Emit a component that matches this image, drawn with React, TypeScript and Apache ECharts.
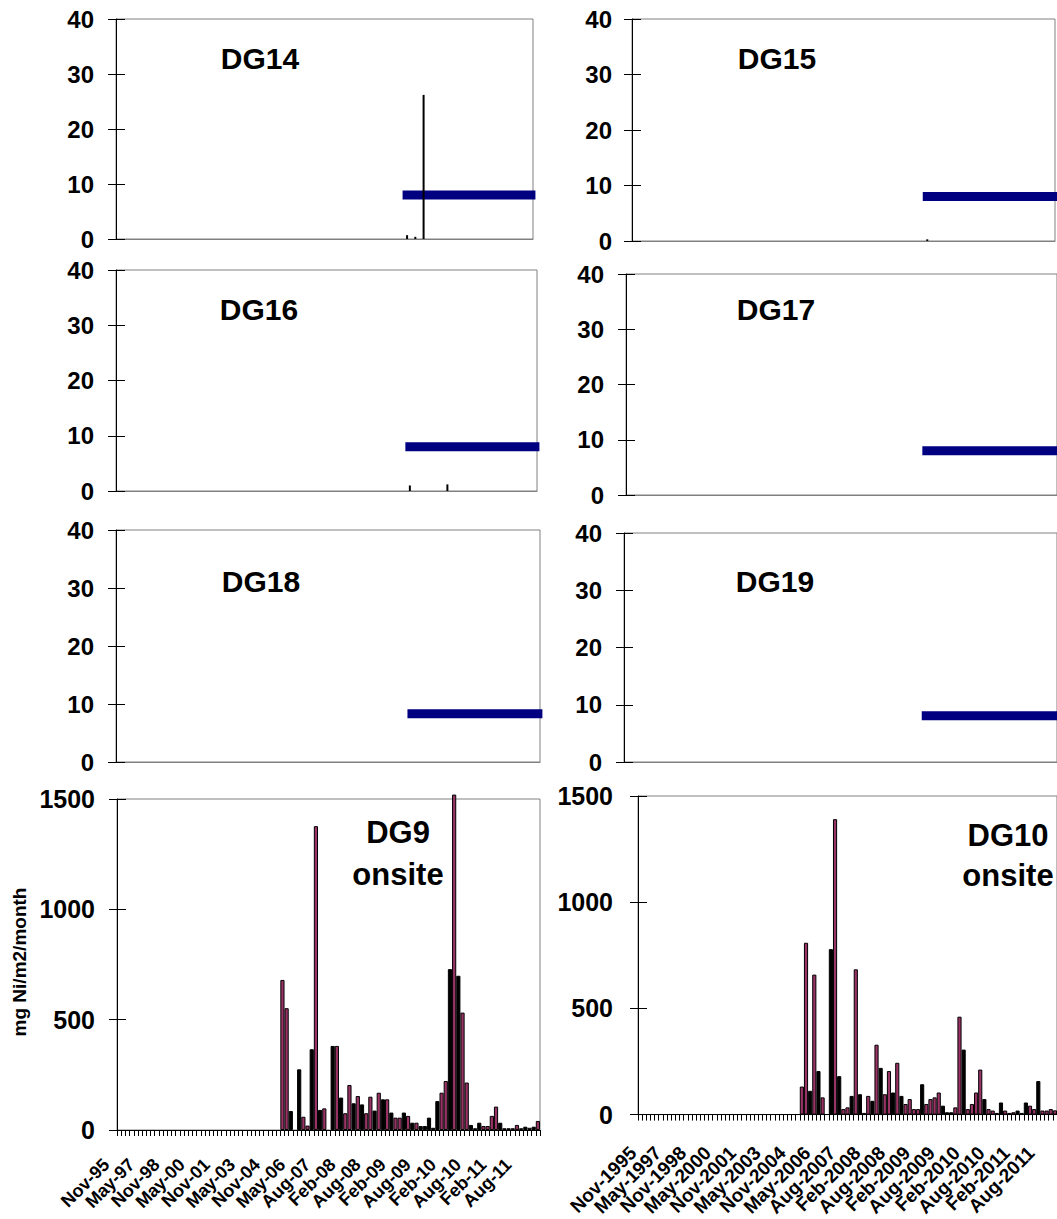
import React, { useEffect, useRef } from "react";
import * as echarts from "echarts";

// ---------- DATA ----------
const categories: string[] = [
  "Nov-95","Feb-96","May-96","Aug-96","Nov-96","Feb-97","May-97","Aug-97","Nov-97","Feb-98",
  "May-98","Aug-98","Nov-98","Feb-99","May-99","Aug-99","Nov-99","Feb-00","May-00","Aug-00",
  "Nov-00","Feb-01","May-01","Aug-01","Nov-01","Feb-02","May-02","Aug-02","Nov-02","Feb-03",
  "May-03","Aug-03","Nov-03","Feb-04","May-04","Aug-04","Nov-04","Feb-05","May-05","Aug-05",
  "Nov-05","Feb-06","May-06","Aug-06","Nov-06","Feb-07","May-07","Jul-07","Aug-07","Sep-07",
  "Oct-07","Nov-07","Dec-07","Jan-08","Feb-08","Mar-08","Apr-08","May-08","Jun-08","Jul-08",
  "Aug-08","Sep-08","Oct-08","Nov-08","Dec-08","Jan-09","Feb-09","Mar-09","Apr-09","May-09",
  "Jun-09","Jul-09","Aug-09","Sep-09","Oct-09","Nov-09","Dec-09","Jan-10","Feb-10","Mar-10",
  "Apr-10","May-10","Jun-10","Jul-10","Aug-10","Sep-10","Oct-10","Nov-10","Dec-10","Jan-11",
  "Feb-11","Mar-11","Apr-11","May-11","Jun-11","Jul-11","Aug-11","Sep-11","Oct-11","Nov-11",
  "Dec-11",
];
const toLong = (c: string) => {
  const [m, y] = c.split("-");
  return m + "-" + (Number(y) > 50 ? "19" : "20") + y;
};
const categoriesLong: string[] = categories.map(toLong);

// x tick labels that are printed
const shownXLabels = [
  "Nov-95", "May-97", "Nov-98", "May-00", "Nov-01", "May-03", "Nov-04", "May-06", "Aug-07",
  "Feb-08", "Aug-08", "Feb-09", "Aug-09", "Feb-10", "Aug-10", "Feb-11", "Aug-11",
];
const shownXLabelsLong = shownXLabels.map(toLong);

const topYTicks = [0, 10, 20, 30, 40];
const bottomYTicks = [0, 500, 1000, 1500];

// guideline (blue line) starts at this month and runs to the end
const guideStart = "Jun-09";
const dg14Guide = 8.0;
const dg15Guide = 8.0;
const dg16Guide = 8.0;
const dg17Guide = 8.0;
const dg18Guide = 8.3;
const dg19Guide = 8.1;

const dg14BarMonths = ["Jun-09", "Aug-09", "Oct-09"];
const dg14BarValues = [0.7, 0.4, 26.2];
const dg15BarMonths = ["Jun-09"];
const dg15BarValues = [0.3];
const dg16BarMonths = ["Jun-09", "Mar-10"];
const dg16BarValues = [1.0, 1.2];

// onsite gauges, values from dg9Start / dg10Start onwards (black series, maroon series)
const dg9Start = "Aug-05";
const dg9Black: (number | null)[] = [
  null, null, 86, null, 275, null, null, 366, null, 91,
  null, null, 381, null, 147, null, null, 121, null, 116,
  null, null, 88, null, 139, null, 79, null, null, 79,
  null, 33, null, 18, 18, 56, 10, 131, null, null,
  729, null, 699, null, null, 23, null, 33, null, null,
  null, null, 33, null, null, null, null, null, 15, null,
  15, null,
];
const dg9Maroon: (number | null)[] = [
  680, 552, null, null, null, 60, 20, null, 1377, null,
  98, null, null, 381, null, 76, 204, null, 154, null,
  76, 151, null, 169, null, 139, null, 56, 56, null,
  64, null, 33, null, null, null, null, null, 169, 222,
  null, 1520, null, 532, 215, null, 8, null, 18, 18,
  64, 106, null, 8, 8, 8, 23, 8, null, 10,
  null, 41,
];

const dg10Start = "Aug-05";
const dg10Black: (number | null)[] = [
  null, null, 112, null, 205, null, null, 779, null, 181,
  null, null, 88, null, 96, null, null, 65, null, 220,
  null, null, 104, null, 88, null, null, null, null, 143,
  null, null, null, null, 42, 11, 11, null, null, 306,
  null, null, null, null, 73, null, null, null, 57, null,
  null, null, 19, null, 57, null, null, 158, null, null,
  null, null,
];
const dg10Maroon: (number | null)[] = [
  132, 809, null, 659, null, 81, null, null, 1391, null,
  26, 34, null, 684, null, 8, 88, null, 329, null,
  96, 205, null, 244, null, 50, 73, 26, 26, null,
  50, 73, 81, 104, null, null, null, 34, 461, null,
  26, 50, 104, 212, null, 26, 19, 8, null, 19,
  8, 11, null, 8, null, 42, 26, null, 19, 19,
  26, 20,
];

// ---------- HELPERS ----------
const FONT = "'Liberation Sans', Arial, Helvetica, sans-serif";

function sparse(months: string[], values: number[]): (number | null)[] {
  const out: (number | null)[] = categories.map(() => null);
  months.forEach((m, i) => {
    const idx = categories.indexOf(m);
    if (idx >= 0) out[idx] = values[i];
  });
  return out;
}
function fromStart(start: string, values: (number | null)[]): (number | null)[] {
  const s = categories.indexOf(start);
  return categories.map((_, i) => (i >= s && i - s < values.length ? values[i - s] : null));
}
function guideline(v: number): (number | null)[] {
  const s = categories.indexOf(guideStart);
  return categories.map((_, i) => (i >= s ? v : null));
}

type Box = { left: number; top: number; width: number; height: number };

function buildOption() {
  const grid: any[] = [];
  const xAxis: any[] = [];
  const yAxis: any[] = [];
  const series: any[] = [];
  const graphic: any[] = [];

  const addYAxes = (gi: number, max: number, interval: number, fontSize: number, margin: number) => {
    yAxis.push({
      type: "value", gridIndex: gi, min: 0, max, interval,
      axisLine: { show: true, lineStyle: { color: "#000", width: 1 } },
      axisTick: { show: true, length: 8, lineStyle: { color: "#000" } },
      axisLabel: {
        show: true, fontSize, fontWeight: "bold", fontFamily: FONT, color: "#000", margin,
        formatter: (v: number) => String(v),
      },
      splitLine: { show: false },
    });
    yAxis.push({
      type: "value", gridIndex: gi, min: 0, max, interval, position: "left",
      axisLine: { show: false },
      axisTick: { show: true, inside: true, length: 9, lineStyle: { color: "#000" } },
      axisLabel: { show: false },
      splitLine: { show: false },
    });
  };

  const topPanels: { title: string; box: Box; margin: number; titlePos: [number, number]; bars: (number | null)[]; guide: number }[] = [
    { title: "DG14", box: { left: 116, top: 19, width: 417, height: 220 }, margin: 22, titlePos: [260, 58], bars: sparse(dg14BarMonths, dg14BarValues), guide: dg14Guide },
    { title: "DG15", box: { left: 632, top: 19, width: 423, height: 222 }, margin: 20, titlePos: [777, 58], bars: sparse(dg15BarMonths, dg15BarValues), guide: dg15Guide },
    { title: "DG16", box: { left: 116, top: 270, width: 421, height: 221 }, margin: 22, titlePos: [259, 309], bars: sparse(dg16BarMonths, dg16BarValues), guide: dg16Guide },
    { title: "DG17", box: { left: 626, top: 274, width: 432, height: 221 }, margin: 22, titlePos: [776, 309], bars: sparse([], []), guide: dg17Guide },
    { title: "DG18", box: { left: 116, top: 530, width: 424, height: 232 }, margin: 22, titlePos: [261, 581], bars: sparse([], []), guide: dg18Guide },
    { title: "DG19", box: { left: 624, top: 533, width: 434, height: 229 }, margin: 22, titlePos: [775, 581], bars: sparse([], []), guide: dg19Guide },
  ];

  topPanels.forEach((p, gi) => {
    grid.push({ ...p.box, show: true, borderColor: "#808080", borderWidth: 1, backgroundColor: "transparent" });
    xAxis.push({
      type: "category", gridIndex: gi, data: categories, boundaryGap: true,
      axisLine: { show: true, lineStyle: { color: "#808080", width: 1 } },
      axisTick: { show: false }, axisLabel: { show: false }, splitLine: { show: false },
    });
    addYAxes(gi, topYTicks[topYTicks.length - 1], topYTicks[1] - topYTicks[0], 24, p.margin);
    series.push({
      type: "line", xAxisIndex: gi, yAxisIndex: gi * 2, data: guideline(p.guide),
      symbol: "none", clip: false, z: 3,
      lineStyle: { color: "#000080", width: 9, cap: "square" },
    });
    series.push({
      type: "bar", xAxisIndex: gi, yAxisIndex: gi * 2, data: p.bars, barWidth: 2, z: 4,
      itemStyle: { color: "#000" },
    });
    graphic.push({
      type: "text", x: p.titlePos[0], y: p.titlePos[1], z: 10,
      style: { text: p.title, fill: "#000", font: `bold 30px ${FONT}`, textAlign: "center", textVerticalAlign: "middle" },
    });
  });

  const bottomPanels = [
    { title: "DG9", box: { left: 117, top: 799, width: 423, height: 331 }, margin: 22, labels: categories, shown: shownXLabels, labelSize: 18, labelMargin: 19, labelPad: 18, titleX: 398, titleY: [832, 874], black: fromStart(dg9Start, dg9Black), maroon: fromStart(dg9Start, dg9Maroon) },
    { title: "DG10", box: { left: 638, top: 796, width: 424, height: 322 }, margin: 25, labels: categoriesLong, shown: shownXLabelsLong, labelSize: 19, labelMargin: 28, labelPad: 10, titleX: 1008, titleY: [835, 875], black: fromStart(dg10Start, dg10Black), maroon: fromStart(dg10Start, dg10Maroon) },
  ];

  bottomPanels.forEach((p, k) => {
    const gi = topPanels.length + k;
    grid.push({ ...p.box, show: true, borderColor: "#808080", borderWidth: 1, backgroundColor: "transparent" });
    xAxis.push({
      type: "category", gridIndex: gi, data: p.labels, boundaryGap: true,
      axisLine: { show: true, lineStyle: { color: "#000", width: 1 } },
      axisTick: { show: true, interval: 0, length: 6, lineStyle: { color: "#000" } },
      axisLabel: {
        show: true, interval: 0, rotate: 45, fontSize: p.labelSize, fontWeight: "bold", fontFamily: FONT,
        color: "#000", margin: p.labelMargin, padding: [0, p.labelPad, 0, 0],
        formatter: (v: string) => (p.shown.indexOf(v) >= 0 ? v : ""),
      },
      splitLine: { show: false },
    });
    addYAxes(gi, bottomYTicks[bottomYTicks.length - 1], bottomYTicks[1] - bottomYTicks[0], 25, p.margin);
    series.push({
      type: "bar", xAxisIndex: gi, yAxisIndex: gi * 2, data: p.black,
      barCategoryGap: "0%", barGap: "-100%", clip: false,
      itemStyle: { color: "#000", borderColor: "#000", borderWidth: 1 },
    });
    series.push({
      type: "bar", xAxisIndex: gi, yAxisIndex: gi * 2, data: p.maroon,
      barCategoryGap: "0%", barGap: "-100%", clip: false,
      itemStyle: { color: "#993366", borderColor: "#000", borderWidth: 1 },
    });
    graphic.push({
      type: "text", x: p.titleX, y: p.titleY[0], z: 10,
      style: { text: p.title, fill: "#000", font: `bold 31px ${FONT}`, textAlign: "center", textVerticalAlign: "middle" },
    });
    graphic.push({
      type: "text", x: p.titleX, y: p.titleY[1], z: 10,
      style: { text: "onsite", fill: "#000", font: `bold 31px ${FONT}`, textAlign: "center", textVerticalAlign: "middle" },
    });
  });

  graphic.push({
    type: "text", x: 19, y: 962, rotation: Math.PI / 2, z: 10,
    style: { text: "mg Ni/m2/month", fill: "#000", font: `bold 19px ${FONT}`, textAlign: "center", textVerticalAlign: "middle" },
  });

  return {
    animation: false,
    backgroundColor: "#ffffff",
    grid, xAxis, yAxis, series, graphic,
  };
}

export default function App() {
  const ref = useRef<HTMLDivElement>(null);
  useEffect(() => {
    if (!ref.current) return;
    const chart = echarts.init(ref.current, null, { renderer: "svg" });
    chart.setOption(buildOption() as any);
    return () => chart.dispose();
  }, []);
  return (
    <div
      ref={ref}
      style={{ position: "absolute", left: 0, top: 0, width: 1057, height: 1219, background: "#fff" }}
    />
  );
}
